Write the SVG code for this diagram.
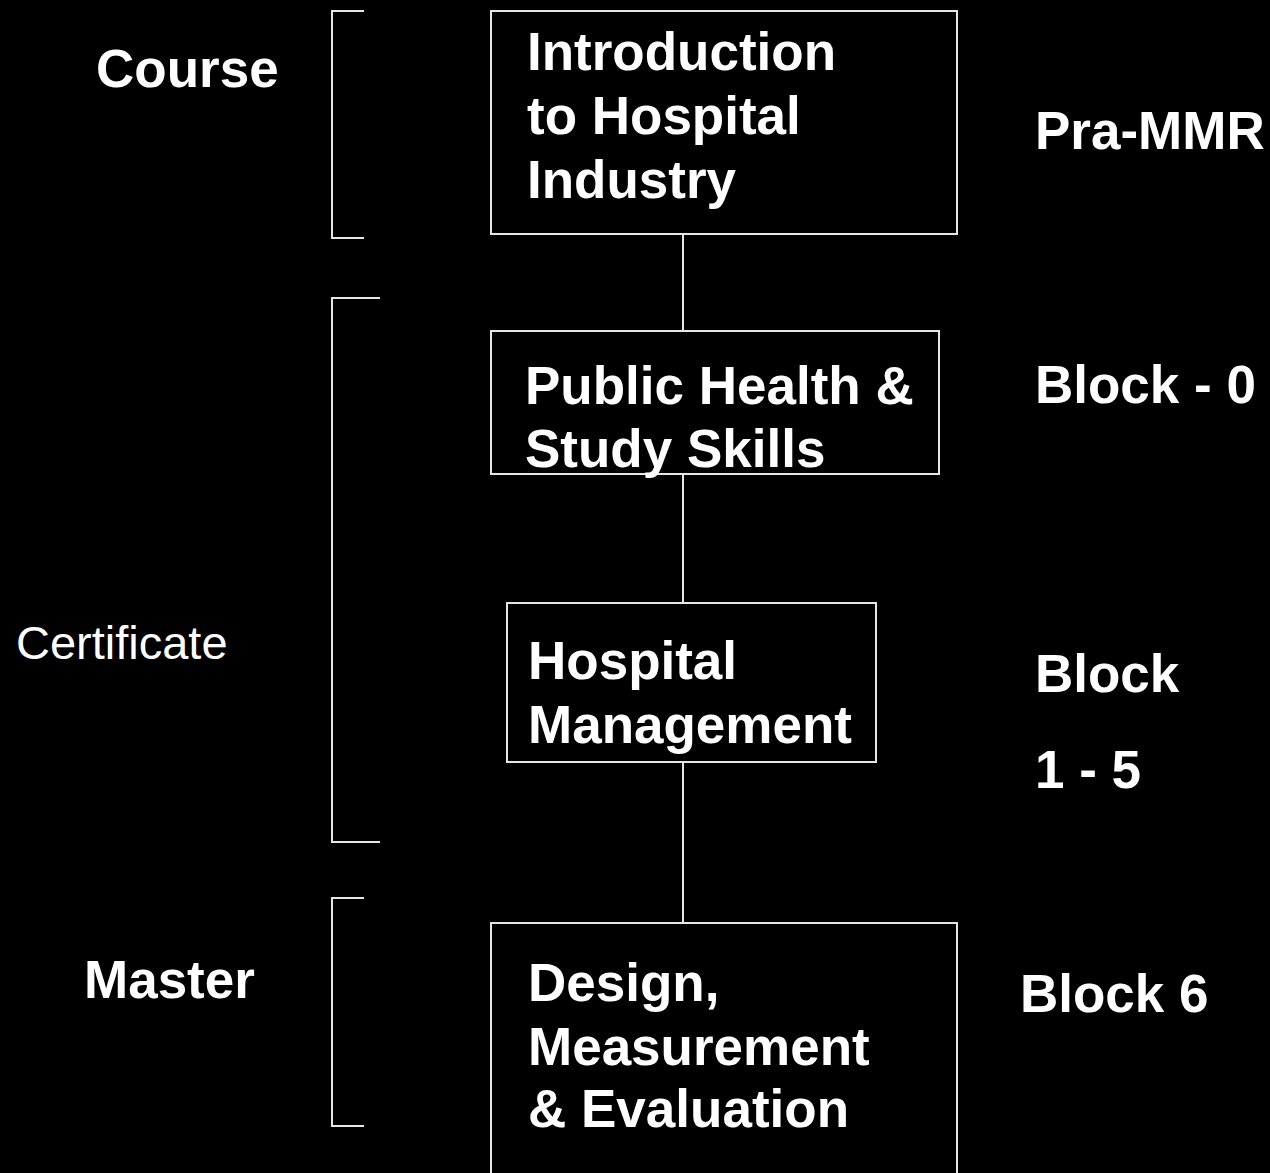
<svg xmlns="http://www.w3.org/2000/svg" width="1270" height="1173" viewBox="0 0 1270 1173">
<style>
.bx{fill:#000;stroke:#e6e6e6;stroke-width:2}
.ln{fill:none;stroke:#e6e6e6;stroke-width:2}
.b{font-family:"Liberation Sans",Arial,sans-serif;font-weight:bold;font-size:53px;fill:#fff}
.r{font-family:"Liberation Sans",Arial,sans-serif;font-size:47px;fill:#fff}
</style>
<rect x="0" y="0" width="1270" height="1173" fill="#000"/>
<g id="brackets">
<path class="ln" d="M364,11 H332 V238 H364"/>
<path class="ln" d="M380,298 H332 V842 H380"/>
<path class="ln" d="M364,898 H332 V1126 H364"/>
</g>
<g id="connectors">
<line class="ln" x1="683" y1="234" x2="683" y2="331"/>
<line class="ln" x1="683" y1="474" x2="683" y2="603"/>
<line class="ln" x1="683" y1="762" x2="683" y2="923"/>
</g>
<g id="node-intro">
<rect class="bx" x="491" y="11" width="466" height="223"/>
<text class="b" x="527" y="70">Introduction</text>
<text class="b" x="527" y="134">to Hospital</text>
<text class="b" x="527" y="198">Industry</text>
</g>
<g id="node-public">
<rect class="bx" x="491" y="331" width="448" height="143"/>
<text class="b" x="525" y="404">Public Health &amp;</text>
<text class="b" x="525" y="467">Study Skills</text>
</g>
<g id="node-hospital">
<rect class="bx" x="507" y="603" width="369" height="159"/>
<text class="b" x="528" y="679">Hospital</text>
<text class="b" x="528" y="743">Management</text>
</g>
<g id="node-design">
<rect class="bx" x="491" y="923" width="466" height="260"/>
<text class="b" x="528" y="1001">Design,</text>
<text class="b" x="528" y="1065">Measurement</text>
<text class="b" x="528" y="1127">&amp; Evaluation</text>
</g>
<g id="left-labels">
<text class="b" x="96" y="87">Course</text>
<text class="r" x="16" y="659">Certificate</text>
<text class="b" x="84" y="998">Master</text>
</g>
<g id="right-labels">
<text class="b" x="1035" y="149">Pra-MMR</text>
<text class="b" x="1035" y="403">Block - 0</text>
<text class="b" x="1035" y="692">Block</text>
<text class="b" x="1035" y="788">1 - 5</text>
<text class="b" x="1020" y="1012">Block 6</text>
</g>
</svg>
